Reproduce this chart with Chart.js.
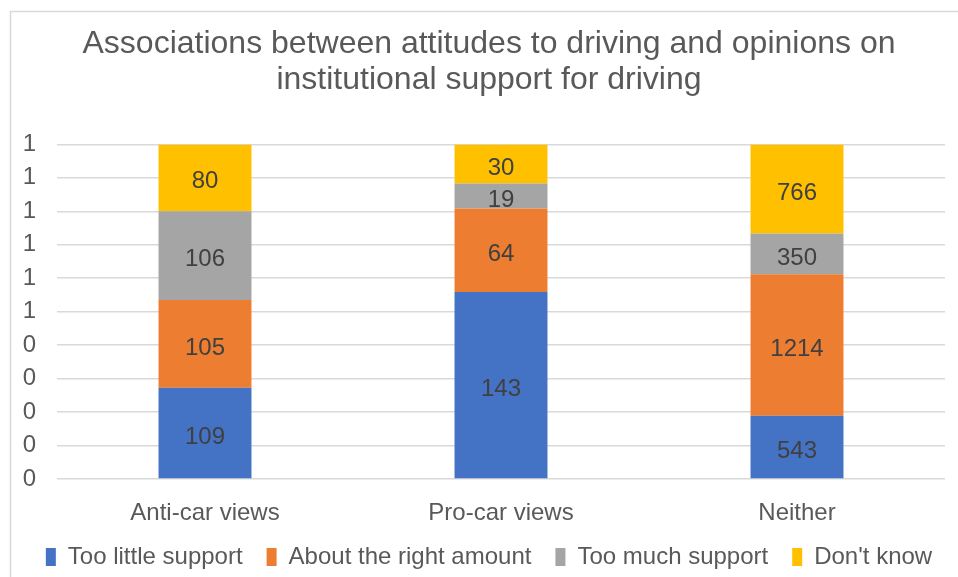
<!DOCTYPE html>
<html>
<head>
<meta charset="utf-8">
<script src="https://cdn.jsdelivr.net/npm/chart.js@4"></script>
<style>
  body { margin: 0; background: #fff; }
  #wrap { width: 958px; height: 577px; position: relative; }
</style>
</head>
<body>
<div id="wrap"><canvas id="chart" width="958" height="577"></canvas></div>
<script>
const categories = ["Anti-car views", "Pro-car views", "Neither"];
const seriesNames = ["Too little support", "About the right amount", "Too much support", "Don't know"];
const tooLittle = [109, 143, 543];
const rightAmount = [105, 64, 1214];
const tooMuch = [106, 19, 350];
const dontKnow = [80, 30, 766];
const colors = ["#4472C4", "#ED7D31", "#A5A5A5", "#FFC000"];

const raw = [tooLittle, rightAmount, tooMuch, dontKnow];
const totals = categories.map((c, i) => raw.reduce((s, arr) => s + arr[i], 0));

const font = "'Liberation Sans', Arial, sans-serif";

// border round the chart like the Excel chart area
const framePlugin = {
  id: "frame",
  beforeDraw(chart) {
    const ctx = chart.ctx;
    ctx.save();
    ctx.fillStyle = "#fff";
    ctx.fillRect(0, 0, chart.width, chart.height);
    ctx.strokeStyle = "#d9d9d9";
    ctx.lineWidth = 1.5;
    ctx.strokeRect(10.5, 11.5, 1000, 1000);
    ctx.restore();
  }
};

// raw counts written in the middle of each segment
const labelPlugin = {
  id: "segLabels",
  afterDatasetsDraw(chart) {
    const ctx = chart.ctx;
    ctx.save();
    ctx.font = "24px " + font;
    ctx.fillStyle = "#404040";
    ctx.textAlign = "center";
    ctx.textBaseline = "middle";
    chart.data.datasets.forEach((ds, di) => {
      chart.getDatasetMeta(di).data.forEach((bar, i) => {
        const y = (bar.y + bar.base) / 2;
        ctx.fillText(String(raw[di][i]), bar.x, y + 4);
      });
    });
    ctx.restore();
  }
};

new Chart(document.getElementById("chart"), {
  type: "bar",
  data: {
    labels: categories,
    datasets: raw.map((arr, di) => ({
      label: seriesNames[di],
      data: arr.map((v, i) => v / totals[i]),
      backgroundColor: colors[di],
      borderWidth: 0,
      categoryPercentage: 1,
      barPercentage: 0.314
    }))
  },
  options: {
    responsive: false,
    animation: false,
    layout: { padding: { left: 20, right: 0, top: 10, bottom: -2 } },
    plugins: {
      title: {
        display: true,
        text: ["Associations between attitudes to driving and opinions on", "institutional support for driving"],
        color: "#595959",
        font: { family: font, size: 32, weight: "normal", lineHeight: 1.1 },
        padding: { top: 17, bottom: 47 }
      },
      legend: {
        position: "bottom",
        labels: {
          color: "#595959",
          font: { family: font, size: 24 },
          boxWidth: 10,
          boxHeight: 18,
          padding: 24
        }
      },
      tooltip: { enabled: false }
    },
    scales: {
      x: {
        stacked: true,
        grid: { display: false, drawTicks: false },
        border: { display: false },
        ticks: { color: "#595959", font: { family: font, size: 24 }, padding: 20 },
        afterFit(scale) { scale.height = 42; }
      },
      y: {
        stacked: true,
        min: 0,
        max: 1,
        border: { display: false },
        grid: { color: "#d9d9d9", lineWidth: 1.5, drawTicks: false },
        ticks: {
          stepSize: 0.1,
          autoSkip: false,
          color: "#595959",
          font: { family: font, size: 24 },
          padding: 21,
          callback: v => String(Math.round(v))
        },
        afterFit(scale) { scale.width = 37; }
      },
      // empty spacer on the right so the legend can use the full width
      spacer: {
        type: "linear",
        position: "right",
        grid: { display: false, drawTicks: false },
        border: { display: false },
        ticks: { display: false },
        afterFit(scale) { scale.width = 13; }
      }
    }
  },
  plugins: [framePlugin, labelPlugin]
});
</script>
</body>
</html>
